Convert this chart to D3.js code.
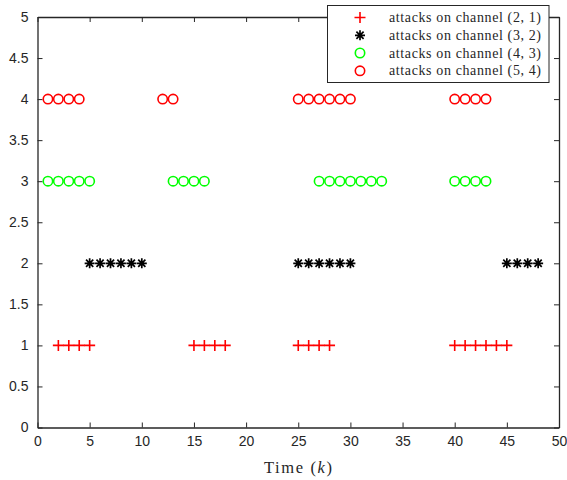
<!DOCTYPE html>
<html><head><meta charset="utf-8">
<script src="https://cdn.jsdelivr.net/npm/d3@7"></script>
<style>body{margin:0;background:#fff}svg{display:block}</style>
</head><body>
<svg id="c" width="567" height="480"></svg>
<script>
const xTicks = [0,5,10,15,20,25,30,35,40,45,50];
const yTicks = [0,0.5,1,1.5,2,2.5,3,3.5,4,4.5,5];
const seriesNames = ["(2,1)","(3,2)","(4,3)","(5,4)"];
const ch21 = [2,3,4,5,15,16,17,18,25,26,27,28,40,41,42,43,44,45];
const ch32 = [5,6,7,8,9,10,25,26,27,28,29,30,45,46,47,48];
const ch43 = [1,2,3,4,5,13,14,15,16,27,28,29,30,31,32,33,40,41,42,43];
const ch54 = [1,2,3,4,12,13,25,26,27,28,29,30,40,41,42,43];
const levels = [1,2,3,4];

const svg = d3.select("#c");
const L=37.5, R=559, T=17, B=427.5;
const x = d3.scaleLinear().domain([0,50]).range([L,R]);
const y = d3.scaleLinear().domain([0,5]).range([B,T]);
const axCol="#262626";
const tickFont="Liberation Sans, Arial, sans-serif";
const serif="'Liberation Serif', 'DejaVu Serif', serif";

const gx = svg.append("g").attr("transform",`translate(0,${B})`)
  .call(d3.axisBottom(x).tickValues(xTicks).tickSizeInner(-5).tickSizeOuter(0).tickPadding(9));
const gxt = svg.append("g").attr("transform",`translate(0,${T})`)
  .call(d3.axisTop(x).tickValues(xTicks).tickSizeInner(-5).tickSizeOuter(0).tickFormat(""));
const gy = svg.append("g").attr("transform",`translate(${L},0)`)
  .call(d3.axisLeft(y).tickValues(yTicks).tickSizeInner(-5).tickSizeOuter(0).tickPadding(9).tickFormat(d3.format("")));
const gyr = svg.append("g").attr("transform",`translate(${R},0)`)
  .call(d3.axisRight(y).tickValues(yTicks).tickSizeInner(-5).tickSizeOuter(0).tickFormat(""));
[gx,gxt,gy,gyr].forEach(g=>{
  g.selectAll("path").attr("stroke",axCol).attr("stroke-width",1.3);
  g.selectAll("line").attr("stroke",axCol).attr("stroke-width",1);
  g.selectAll("text").attr("fill",axCol).style("font-family",tickFont).style("font-size","14px");
});

function plus(g, cx, cy, s, col){
  g.append("path").attr("d",`M${cx-s},${cy}H${cx+s}M${cx},${cy-s}V${cy+s}`)
   .attr("stroke",col).attr("stroke-width",1.6).attr("fill","none");
}
function star(g, cx, cy, s, col){
  const d = `M${cx-s},${cy}H${cx+s}M${cx},${cy-s}V${cy+s}` +
    `M${cx-s*0.72},${cy-s*0.72}L${cx+s*0.72},${cy+s*0.72}M${cx-s*0.72},${cy+s*0.72}L${cx+s*0.72},${cy-s*0.72}`;
  g.append("path").attr("d",d).attr("stroke",col).attr("stroke-width",1.7).attr("fill","none");
}
function circ(g, cx, cy, r, col){
  g.append("circle").attr("cx",cx).attr("cy",cy).attr("r",r)
   .attr("stroke",col).attr("stroke-width",1.6).attr("fill","none");
}

const marks = svg.append("g");
ch21.forEach(v=>plus(marks, x(v), y(levels[0]), 5.5, "#ff0000"));
ch32.forEach(v=>star(marks, x(v), y(levels[1]), 5, "#000000"));
ch43.forEach(v=>circ(marks, x(v), y(levels[2]), 4.7, "#00ff00"));
ch54.forEach(v=>circ(marks, x(v), y(levels[3]), 4.7, "#ff0000"));

// legend
const lg = svg.append("g");
lg.append("rect").attr("x",327.5).attr("y",5.5).attr("width",221.5).attr("height",77)
  .attr("fill","#fff").attr("stroke",axCol).attr("stroke-width",1);
const rowY=[17.5,35.3,53,70.8];
plus(lg,360,rowY[0],5.5,"#ff0000");
star(lg,360,rowY[1],5,"#000000");
circ(lg,360,rowY[2],4.7,"#00ff00");
circ(lg,360,rowY[3],4.7,"#ff0000");
seriesNames.forEach((n,i)=>{
  const parts = n.replace(/[()]/g,"").split(",");
  lg.append("text").attr("x",389).attr("y",rowY[i]+4.5)
    .attr("textLength",152).attr("lengthAdjust","spacing")
    .style("font-family",serif).style("font-size","14px").attr("fill",axCol)
    .text("attacks on channel (" + parts[0] + ", " + parts[1] + ")");
});

// x label
const xl = svg.append("text").attr("x",264).attr("y",472.5)
  .attr("textLength",68).attr("lengthAdjust","spacing")
  .style("font-family",serif).style("font-size","16.5px").attr("fill",axCol);
xl.append("tspan").text("Time (");
xl.append("tspan").style("font-style","italic").text("k");
xl.append("tspan").text(")");
</script>
</body></html>
